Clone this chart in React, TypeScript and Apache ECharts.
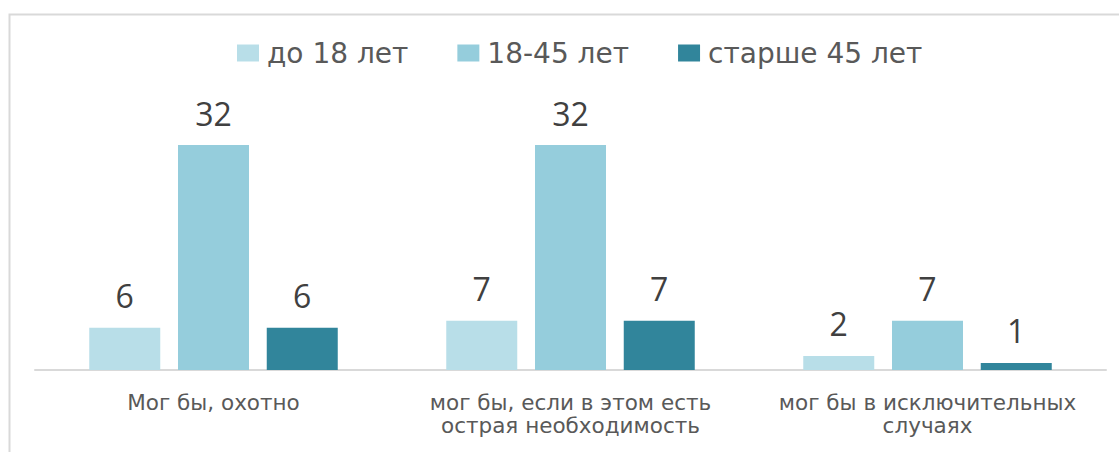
import React, { useEffect, useRef } from "react";
import * as echarts from "echarts";

const categories = [
  "Мог бы, охотно",
  "мог бы, если в этом есть\nострая необходимость",
  "мог бы в исключительных\nслучаях",
];
const seriesNames = ["до 18 лет", "18-45 лет", "старше 45 лет"];
const under18 = [6, 7, 2];
const from18to45 = [32, 32, 7];
const over45 = [6, 7, 1];
const colors = ["#b8dee8", "#95cddc", "#31859b"];

const FONT = "'DejaVu Sans', 'Open Sans', sans-serif";
const NUMFONT = "'Open Sans', 'Noto Sans', sans-serif";

export default function App() {
  const ref = useRef<HTMLDivElement>(null);
  useEffect(() => {
    if (!ref.current) return;
    const chart = echarts.init(ref.current, undefined, { renderer: "svg" });
    const values = [under18, from18to45, over45];
    chart.setOption({
      animation: false,
      textStyle: { fontFamily: FONT },
      graphic: [
        {
          type: "rect",
          shape: { x: 9.5, y: 14.5, width: 1200, height: 600 },
          style: { fill: "none", stroke: "#d9d9d9", lineWidth: 2 },
          silent: true,
          z: -1,
        },
      ],
      legend: {
        top: 34,
        left: 232,
        itemWidth: 22,
        itemHeight: 17,
        itemGap: 49,
        icon: "rect",
        textStyle: {
          fontSize: 28,
          color: "#595959",
          fontFamily: FONT,
          padding: [0, 0, 0, 3],
        },
        data: seriesNames,
      },
      grid: { left: 35, right: 13, top: 124, bottom: 82, containLabel: false },
      xAxis: {
        type: "category",
        data: categories,
        axisLine: { lineStyle: { color: "#d9d9d9", width: 2 } },
        axisTick: { show: false },
        axisLabel: {
          fontSize: 21.5,
          color: "#595959",
          lineHeight: 23,
          margin: 21,
          fontFamily: FONT,
          interval: 0,
        },
      },
      yAxis: {
        type: "value",
        min: 0,
        max: 35,
        show: false,
        splitLine: { show: false },
      },
      series: seriesNames.map((name, i) => ({
        name,
        type: "bar",
        data: values[i],
        barWidth: 71,
        barGap: "25%",
        itemStyle: { color: colors[i] },
        label: {
          show: true,
          position: "top",
          distance: 16,
          fontSize: 32,
          color: "#404040",
          fontFamily: NUMFONT,
        },
      })),
    });
    return () => chart.dispose();
  }, []);
  return (
    <div
      ref={ref}
      style={{ position: "absolute", left: 0, top: 0, width: 1119, height: 452, background: "#fff" }}
    />
  );
}
